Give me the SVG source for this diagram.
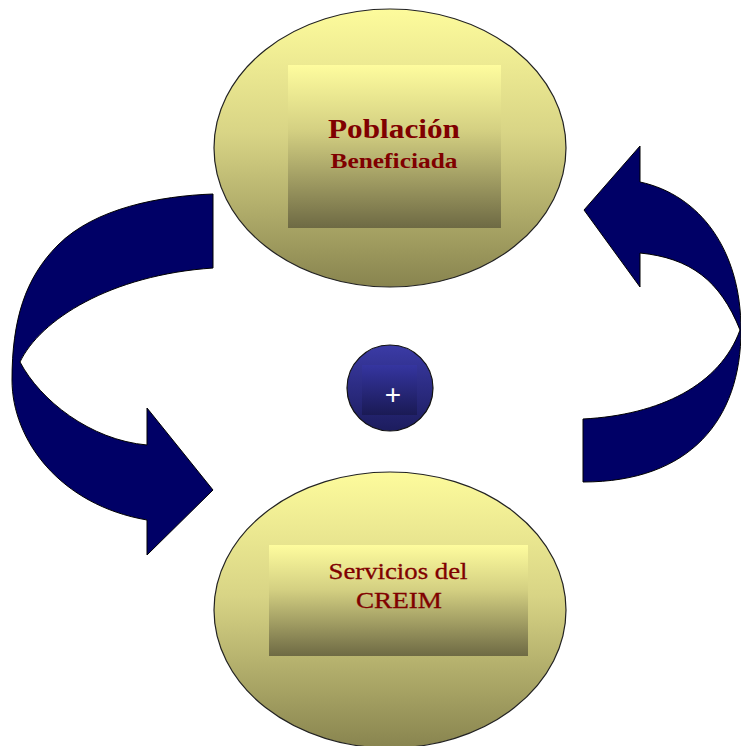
<svg xmlns="http://www.w3.org/2000/svg" width="741" height="746" viewBox="0 0 741 746">
<style>
.ell{fill:url(#gEll);stroke:#222;stroke-width:1.2}
.box{fill:url(#gBox)}
.arrow{fill:#000066;stroke:#000;stroke-width:1}
.t{font-family:"Liberation Serif","Times New Roman",serif;fill:#800000;text-anchor:middle}
</style>
<defs>
<linearGradient id="gEll" x1="0" y1="0" x2="0" y2="1">
<stop offset="0" stop-color="#fdfb9c"/>
<stop offset="0.45" stop-color="#d8d485"/>
<stop offset="1" stop-color="#88844f"/>
</linearGradient>
<linearGradient id="gBox" x1="0" y1="0" x2="0" y2="1">
<stop offset="0" stop-color="#fefc9e"/>
<stop offset="0.4" stop-color="#d4d082"/>
<stop offset="1" stop-color="#6e6a44"/>
</linearGradient>
<linearGradient id="gCirc" x1="0" y1="0" x2="0" y2="1">
<stop offset="0" stop-color="#3b3ba6"/>
<stop offset="1" stop-color="#1c1c5e"/>
</linearGradient>
<linearGradient id="gCircBox" x1="0" y1="0" x2="0" y2="1">
<stop offset="0" stop-color="#3535a0"/>
<stop offset="1" stop-color="#1a1a55"/>
</linearGradient>
</defs>
<rect width="741" height="746" fill="#fff"/>
<g id="connectors">
<path class="arrow" d="M213,194 C160,196 95,208 58,245 C25,278 12,320 12,380 C12,440 60,505 147,520 L147,555 L213,490 L147,408 L147,445 C90,440 40,400 20,362 C40,320 110,275 213,268 Z"/>
<path class="arrow" d="M640,182 C700,195 741,250 741,330 C741,420 690,482 583,482 L583,419 C660,415 720,385 740,330 C720,280 690,258 640,253 L640,287 L584,210 L640,146 Z"/>
</g>
<g id="poblacion">
<ellipse class="ell" cx="390" cy="148" rx="176" ry="139"/>
<rect class="box" x="288" y="65" width="213" height="163"/>
<text class="t" x="394" y="138" font-size="28" font-weight="bold" textLength="132" lengthAdjust="spacingAndGlyphs">Población</text>
<text class="t" x="394" y="168" font-size="20" font-weight="bold" textLength="127" lengthAdjust="spacingAndGlyphs">Beneficiada</text>
</g>
<g id="servicios">
<ellipse class="ell" cx="390" cy="610" rx="176" ry="138"/>
<rect class="box" x="269" y="545" width="259" height="111"/>
<text class="t" x="398" y="579" font-size="23" textLength="139" lengthAdjust="spacingAndGlyphs" stroke="#800000" stroke-width="0.3">Servicios del</text>
<text class="t" x="399" y="608" font-size="23" textLength="86" lengthAdjust="spacingAndGlyphs" stroke="#800000" stroke-width="0.3">CREIM</text>
</g>
<g id="plus">
<circle cx="390" cy="388" r="43" fill="url(#gCirc)" stroke="#111" stroke-width="1.2"/>
<rect x="362" y="365" width="55" height="50" fill="url(#gCircBox)"/>
<text x="393" y="404" font-family="Liberation Sans, Arial, sans-serif" font-size="28" fill="#fff" text-anchor="middle">+</text>
</g>
</svg>
